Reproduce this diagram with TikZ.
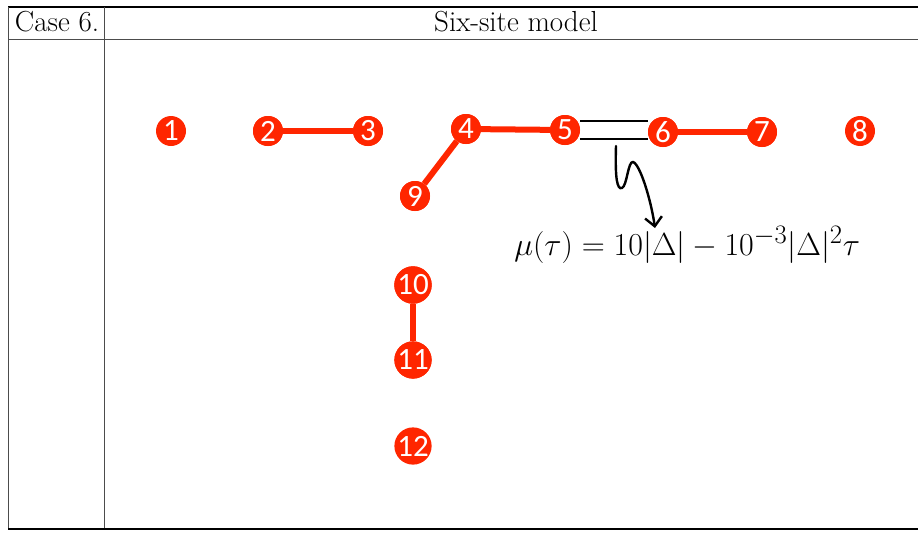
\documentclass[tikz,border=0pt]{standalone}
\usepackage{fontspec}
\newfontfamily\digitfont{Carlito}
\usetikzlibrary{arrows.meta}
\definecolor{sitered}{RGB}{255,38,0}
\begin{document}
\begin{tikzpicture}[x=1pt,y=-1pt,
  site/.style={circle,fill=sitered,draw=none,minimum size=30pt,inner sep=0pt,text=white,font=\digitfont\fontsize{31}{31}\selectfont},
  bond/.style={draw=sitered,line width=6pt},
  rule/.style={line width=1.2pt,black},
  thinrule/.style={line width=0.8pt,black!70},
  hdr/.style={font=\fontsize{29}{34}\selectfont,inner sep=0pt}]
\useasboundingbox (0,0) rectangle (918,533);
% table
\draw[rule] (8,7) -- (918,7);
\draw[thinrule] (8,39) -- (918,39);
\draw[thinrule] (8,7) -- (8,529);
\draw[thinrule] (104,7) -- (104,529);
\draw[rule] (8,529) -- (918,529);
\node[hdr] (case) at (57,22) {Case 6.};
\node[hdr] (title) at (516,22) {Six-site model};
% sites
\path (171,131) node[site] (n1) {1}
      (268,131) node[site] (n2) {2}
      (368,131) node[site] (n3) {3}
      (466,129) node[site] (n4) {4}
      (565,130) node[site] (n5) {5}
      (663,132) node[site] (n6) {6}
      (762,132) node[site] (n7) {7}
      (860,131) node[site] (n8) {8}
      (415,196) node[site] (n9) {9}
      (413,285) node[site] (n10) {10}
      (413,360) node[site] (n11) {11}
      (413,446) node[site] (n12) {12};
% bonds
\draw[bond] (n2) -- (n3);
\draw[bond] (n4) -- (n5);
\draw[bond] (n4) -- (n9);
\draw[bond] (n6) -- (n7);
\draw[bond] (n10) -- (n11);
\draw[line width=2.6pt] (n5.east |- 0,121) -- (n6.west |- 0,121);
\draw[line width=2.6pt] (n5.east |- 0,139) -- (n6.west |- 0,139);
\foreach \n in {2,3,4,5,6,7,9,10,11}{\node[site] at (n\n) {\n};}
% formula
\node[anchor=base west,inner sep=0pt,scale=1.285,font=\fontsize{24.88}{30}\selectfont] (mu) at (514,255) {$\mu(\tau)=10|\Delta|-10^{-3}|\Delta|^2\tau$};
\coordinate (s) at (616,146);
\coordinate (t) at (655,228);
\draw[line width=2.4pt,line cap=round,-{Straight Barb[length=9pt,width=17pt]}] (s) .. controls (615,178) and (617,190) .. (622,188) .. controls (627,186) and (628,161) .. (633,162) .. controls (640,164) and (651,200) .. (t);
\end{tikzpicture}
\end{document}
